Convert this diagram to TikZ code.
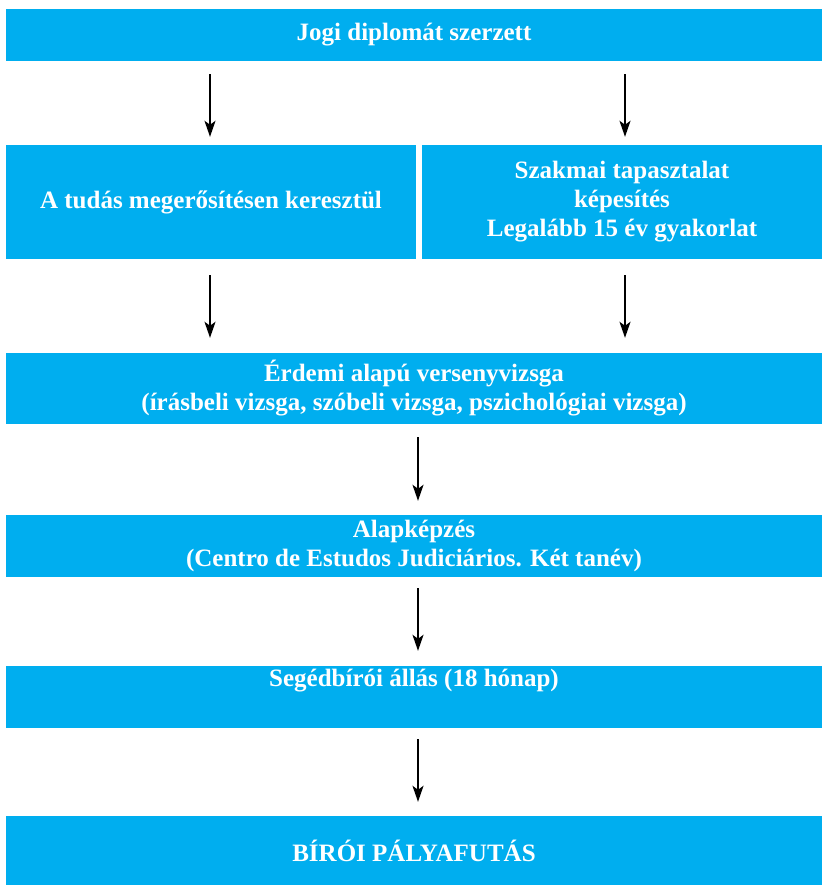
\documentclass[tikz,border=0pt]{standalone}
\usepackage{fontspec}
\setmainfont{Liberation Serif}
\usetikzlibrary{arrows.meta}
\definecolor{boxblue}{RGB}{0,174,239}
\begin{document}
\begin{tikzpicture}[x=1bp,y=-1bp,
  box/.style={fill=boxblue, draw=none, inner sep=0pt, text=white, align=center,
    font=\fontsize{25bp}{29bp}\selectfont\bfseries},
  arr/.style={draw=black, line width=2bp, -{Stealth[length=16bp,width=11bp,inset=4bp]}}]
\fill[white] (0,0) rectangle (822,885);
\useasboundingbox (0,0) rectangle (822,885);
\node[box, minimum width=816bp, minimum height=52bp] (b1) at (414,35) {Jogi diplomát szerzett};
\node[box, minimum width=410bp, minimum height=114bp] (b2l) at (211,202) {A tudás megerősítésen keresztül};
\node[box, minimum width=400bp, minimum height=114bp] (b2r) at (622,202) {Szakmai tapasztalat\\képesítés\\Legalább 15 év gyakorlat};
\node[box, minimum width=816bp, minimum height=71bp] (b3) at (414,388.5) {Érdemi alapú versenyvizsga\\(írásbeli vizsga, szóbeli vizsga, pszichológiai vizsga)};
\node[box, minimum width=816bp, minimum height=62bp] (b4) at (414,546) {Alapképzés\\(Centro de Estudos Judiciários. Két tanév)};
\node[box, minimum width=816bp, minimum height=62bp] (b5) at (414,697) {Segédbírói állás (18 hónap)\\\strut};
\node[box, minimum width=816bp, minimum height=69bp] (b6) at (414,850.5) {BÍRÓI PÁLYAFUTÁS};
\coordinate (c1) at (210,0);
\coordinate (c2) at (625,0);
\coordinate (c3) at (418,0);
\draw[arr, shorten <=13bp, shorten >=8bp] (b1.south -| c1) -- (b2l.north -| c1);
\draw[arr, shorten <=13bp, shorten >=8bp] (b1.south -| c2) -- (b2r.north -| c2);
\draw[arr, shorten <=16bp, shorten >=15bp] (b2l.south -| c1) -- (b3.north -| c1);
\draw[arr, shorten <=16bp, shorten >=15bp] (b2r.south -| c2) -- (b3.north -| c2);
\draw[arr, shorten <=13bp, shorten >=14bp] (b3.south -| c3) -- (b4.north -| c3);
\draw[arr, shorten <=11bp, shorten >=15bp] (b4.south -| c3) -- (b5.north -| c3);
\draw[arr, shorten <=11bp, shorten >=14bp] (b5.south -| c3) -- (b6.north -| c3);
\end{tikzpicture}
\end{document}
